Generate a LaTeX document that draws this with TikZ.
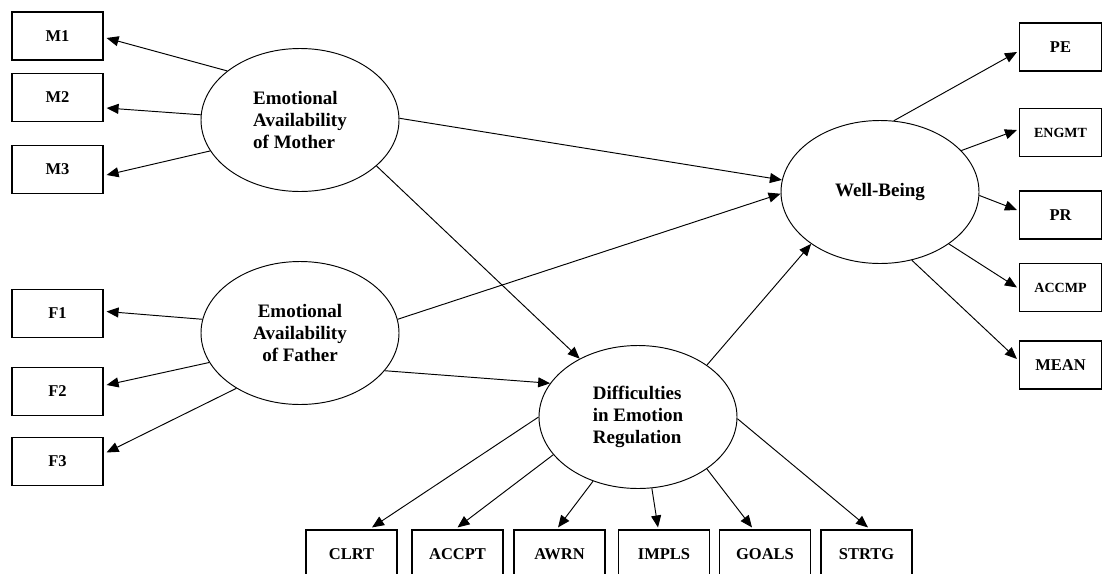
\documentclass[tikz,border=0pt]{standalone}
\usepackage{fontspec}
\setmainfont{Liberation Serif}
\usetikzlibrary{arrows.meta,shapes.geometric}
\begin{document}
\begin{tikzpicture}[x=1pt,y=1pt,
  box/.style={draw, line width=1.1pt, minimum width=91pt, minimum height=48pt, inner sep=0pt, font=\fontsize{16.5}{19}\selectfont\bfseries},
  rbox/.style={box, minimum width=82pt},
  sfont/.style={font=\fontsize{14}{16}\selectfont\bfseries},
  latent/.style={draw, ellipse, line width=0.95pt, minimum width=198pt, minimum height=143pt, inner sep=0pt, font=\fontsize{19}{22}\selectfont\bfseries},
  arr/.style={line width=0.95pt, -{Triangle[length=12pt,width=10pt]}}]
\useasboundingbox (0,0) rectangle (1103,-573);
\clip (0,0) rectangle (1103,-573);
% left indicators
\node[box] (m1) at (57.5,-36) {M1};
\node[box] (m2) at (57.5,-97.5) {M2};
\node[box] (m3) at (57.5,-169.5) {M3};
\node[box] (f1) at (57.5,-313.5) {F1};
\node[box] (f2) at (57.5,-391.5) {F2};
\node[box] (f3) at (57.5,-461.5) {F3};
% right indicators
\node[rbox] (pe) at (1060.5,-47) {PE};
\node[rbox,sfont] (engmt) at (1060.5,-132.5) {ENGMT};
\node[rbox] (pr) at (1060.5,-215) {PR};
\node[rbox,sfont] (accmp) at (1060.5,-287.5) {ACCMP};
\node[rbox] (mean) at (1060.5,-365) {MEAN};
% bottom indicators
\node[box] (clrt) at (351.5,-554) {CLRT};
\node[box] (accpt) at (457.5,-554) {ACCPT};
\node[box] (awrn) at (559.5,-554) {AWRN};
\node[box] (impls) at (664,-554) {IMPLS};
\node[box] (goals) at (765,-554) {GOALS};
\node[box] (strtg) at (866.5,-554) {STRTG};
% latent variables
\node[latent, align=left] (mom) at (300,-120) {Emotional\\Availability\\of Mother};
\node[latent, align=center] (fa) at (300,-333) {Emotional\\Availability\\of Father};
\node[latent, align=left] (diff) at (638,-417) {Difficulties\\in Emotion\\Regulation};
\node[latent] (wb) at (880,-192) {Well-Being};
% loadings
\draw[arr] (mom.146.5) -- ([xshift=3pt,yshift=-2pt]m1.east);
\draw[arr] (mom.177.7) -- ([xshift=3pt,yshift=-10.5pt]m2.east);
\draw[arr] (mom.199.4) -- ([xshift=3pt,yshift=-5.5pt]m3.east);
\draw[arr] (fa.172) -- ([xshift=3pt,yshift=2pt]f1.east);
\draw[arr] (fa.198.4) -- ([xshift=3pt,yshift=6.5pt]f2.east);
\draw[arr] (fa.221.6) -- ([xshift=3pt,yshift=9pt]f3.east);
\draw[arr] (wb.79.5) -- ([xshift=-2pt,yshift=-5pt]pe.west);
\draw[arr] (wb.27) -- ([xshift=-2pt,yshift=2.5pt]engmt.west);
\draw[arr] (wb.358) -- ([xshift=-2pt,yshift=5pt]pr.west);
\draw[arr] (wb.323) -- ([xshift=-2pt]accmp.west);
\draw[arr] (wb.295) -- ([xshift=-2pt,yshift=6pt]mean.west);
\draw[arr] (diff.180.6) -- ([xshift=20.5pt,yshift=2pt]clrt.north);
\draw[arr] (diff.204.6) -- ([yshift=2pt]accpt.north);
\draw[arr] (diff.235.3) -- ([xshift=-1.5pt,yshift=2pt]awrn.north);
\draw[arr] (diff.281) -- ([xshift=-6pt,yshift=2pt]impls.north);
\draw[arr] (diff.323) -- ([xshift=-13pt,yshift=2pt]goals.north);
\draw[arr] (diff.359.4) -- ([xshift=1.5pt,yshift=2pt]strtg.north);
% structural paths
\draw[arr] (mom.1) -- (wb.173);
\draw[arr] (mom.329.4) -- (diff.135);
\draw[arr] (fa.8.5) -- (wb.181);
\draw[arr] (fa.336.4) -- (diff.159.8);
\draw[arr] (diff.37.5) -- (wb.217.6);
\end{tikzpicture}
\end{document}
